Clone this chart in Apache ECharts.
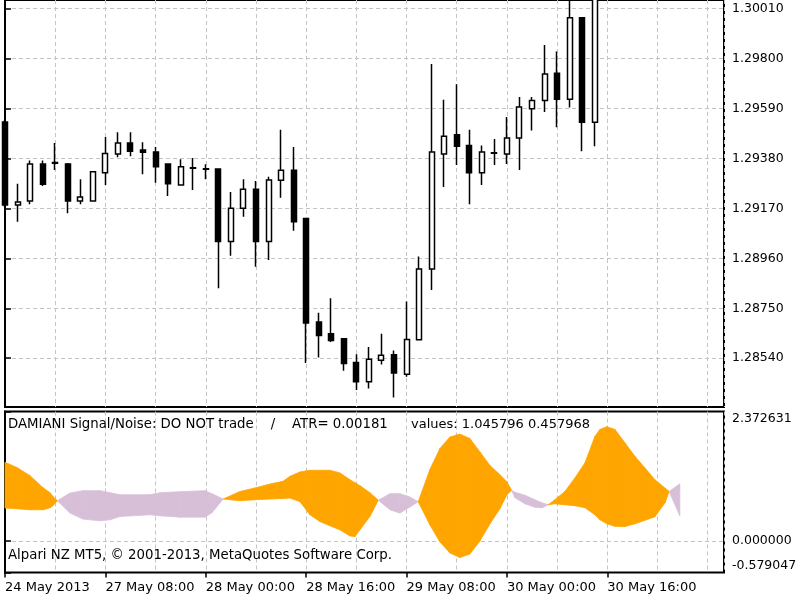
<!DOCTYPE html>
<html>
<head>
<meta charset="utf-8">
<script src="https://cdn.jsdelivr.net/npm/echarts@6/dist/echarts.min.js"></script>
<style>
  html, body { margin: 0; padding: 0; background: #fff; }
  #chart { width: 800px; height: 600px; }
</style>
</head>
<body>
<div id="chart"></div>
<script>
// 2H candles, index 0..47
const candleOpen = [1.29533,1.29184,1.29201,1.29357,1.29363,1.29357,1.29201,1.29201,1.29320,1.29399,1.29445,1.29415,1.29407,1.29357,1.29268,1.29341,1.29337,1.29336,1.29031,1.29171,1.29250,1.29031,1.29288,1.29330,1.29127,1.28692,1.28643,1.28622,1.28522,1.28441,1.28532,1.28555,1.28473,1.28618,1.28915,1.29399,1.29480,1.29434,1.29320,1.29404,1.29399,1.29466,1.29589,1.29624,1.29738,1.29629,1.29971,1.29532];
const candleClose = [1.29184,1.29197,1.29357,1.29271,1.29360,1.29201,1.29218,1.29324,1.29401,1.29445,1.29410,1.29406,1.29345,1.29274,1.29345,1.29339,1.29335,1.29031,1.29171,1.29250,1.29031,1.29289,1.29330,1.29114,1.28688,1.28636,1.28615,1.28518,1.28441,1.28536,1.28553,1.28478,1.28619,1.28915,1.29407,1.29473,1.29431,1.29320,1.29407,1.29402,1.29466,1.29596,1.29624,1.29735,1.29629,1.29971,1.29532,1.30101];
const candleHigh = [1.29540,1.29274,1.29371,1.29371,1.29445,1.29361,1.29292,1.29327,1.29470,1.29490,1.29490,1.29448,1.29428,1.29359,1.29376,1.29382,1.29355,1.29336,1.29239,1.29292,1.29285,1.29303,1.29501,1.29428,1.29127,1.28731,1.28792,1.28622,1.28557,1.28587,1.28643,1.28573,1.28778,1.28968,1.29777,1.29627,1.29692,1.29501,1.29434,1.29462,1.29554,1.29638,1.29638,1.29857,1.29829,1.30071,1.29971,1.30122];
const candleLow = [1.29176,1.29114,1.29187,1.29264,1.29331,1.29150,1.29187,1.29199,1.29268,1.29385,1.29389,1.29313,1.29278,1.29222,1.29266,1.29247,1.29292,1.28834,1.28971,1.29135,1.28925,1.28953,1.29215,1.29076,1.28520,1.28543,1.28608,1.28487,1.28406,1.28413,1.28514,1.28375,1.28462,1.28618,1.28827,1.29260,1.29352,1.29187,1.29268,1.29352,1.29357,1.29331,1.29497,1.29575,1.29511,1.29594,1.29410,1.29431];

const priceTicks = [1.28540, 1.28750, 1.28960, 1.29170, 1.29380, 1.29590, 1.29800, 1.30010];
const timeTickIdx = [0, 8, 16, 24, 32, 40, 48];
const timeTickLabels = ["24 May 2013", "27 May 08:00", "28 May 00:00", "28 May 16:00", "29 May 08:00", "30 May 00:00", "30 May 16:00"];

// DAMIANI volatmeter, two lines (bar position, value)
const indX = [0,0.96,1.99,3.03,3.59,3.82,4.17,5.18,6.22,7.57,8.37,9.16,11.55,12.35,13.94,15.94,16.49,17.39,18.73,19.92,21.12,22.15,22.71,23.51,24.30,25.10,25.90,26.69,27.49,27.89,28.29,29.08,29.75,30.68,31.47,32.27,32.93,33.86,34.66,35.46,36.25,37.05,37.85,38.65,39.44,40.00,40.37,40.64,41.43,42.23,42.79,43.29,43.82,44.62,45.42,46.22,47.01,47.41,47.97,48.61,49.40,50.20,51.00,51.79,52.59,52.93,53.78];
const indSig = [0.602,0.589,0.571,0.571,0.608,0.645,0.737,0.878,0.921,0.921,0.884,0.847,0.847,0.884,0.902,0.921,0.866,0.768,0.737,0.755,0.768,0.779,0.786,0.720,0.479,0.355,0.276,0.203,0.092,0.079,0.203,0.448,0.746,0.866,0.866,0.805,0.718,0.295,-0.018,-0.221,-0.305,-0.239,0.000,0.313,0.589,0.847,0.930,0.893,0.838,0.755,0.700,0.663,0.681,0.663,0.645,0.610,0.479,0.387,0.313,0.267,0.263,0.313,0.378,0.442,0.694,0.908,1.045796];
const indThr = [1.442,1.344,1.197,0.976,0.884,0.816,0.737,0.510,0.400,0.368,0.387,0.448,0.479,0.460,0.436,0.436,0.516,0.768,0.908,0.971,1.044,1.092,1.184,1.265,1.295,1.295,1.295,1.247,1.123,1.068,1.013,0.884,0.746,0.571,0.510,0.621,0.718,1.308,1.694,1.906,1.958,1.878,1.630,1.381,1.215,1.087,0.930,0.792,0.681,0.617,0.608,0.663,0.755,0.908,1.155,1.431,1.915,2.044,2.094,2.044,1.799,1.552,1.339,1.123,0.971,0.908,0.457968];

const indMin = -0.579047;
const indMax = 2.372631;

const font = "DejaVu Sans";
const gridDash = { color: "#c4c4c4", type: [4, 3], width: 1 };

const candleData = candleOpen.map((o, i) => [i, o, candleClose[i], candleLow[i], candleHigh[i]]);
const indData = indX.map((x, i) => [x, indSig[i], indThr[i]]);

const chart = echarts.init(document.getElementById("chart"));

// filling between the two lines: orange where thr > sig, thistle otherwise
function renderFill(params, api) {
  const i = params.dataIndex;
  if (i >= indData.length - 1) return;
  const a = indData[i];
  const b = indData[i + 1];
  const color = (a[2] - a[1]) + (b[2] - b[1]) > 0 ? "#FFA500" : "#D8BFD8";
  const pts = [
    api.coord([a[0], a[1]]),
    api.coord([b[0], b[1]]),
    api.coord([b[0], b[2]]),
    api.coord([a[0], a[2]]),
  ];
  return {
    type: "polygon",
    shape: { points: pts },
    style: { fill: color, stroke: color, lineWidth: 0.8 },
  };
}

const textStyle = { fontFamily: font, fontSize: 13.3, fontWeight: "normal", color: "#000" };

const option = {
  animation: false,
  backgroundColor: "#fff",
  textStyle: { fontFamily: font },
  title: [
    { text: "DAMIANI Signal/Noise: DO NOT trade    /    ATR= 0.00181", left: 8, top: 418, padding: 0, textStyle: textStyle },
    { text: "values: 1.045796 0.457968", left: 411, top: 418, padding: 0, textStyle: { ...textStyle, fontSize: 13 } },
    { text: "Alpari NZ MT5, © 2001-2013, MetaQuotes Software Corp.", left: 8, top: 549, padding: 0, textStyle: textStyle },
  ],
  grid: [
    { left: 5, right: 76, top: -2, height: 409, show: true, borderColor: "#000", borderWidth: 2 },
    { left: 5, right: 76, top: 411.5, height: 161, show: true, borderColor: "#000", borderWidth: 2 },
  ],
  xAxis: [
    { gridIndex: 0, type: "value", min: 0, max: 57.3, interval: 4,
      axisLine: { show: false }, axisTick: { show: false }, axisLabel: { show: false },
      splitLine: { show: true, showMinLine: false, lineStyle: gridDash } },
    { gridIndex: 1, type: "value", min: 0, max: 57.3, interval: 4,
      axisLine: { show: false }, axisTick: { show: false }, axisLabel: { show: false },
      splitLine: { show: true, showMinLine: false, lineStyle: gridDash } },
    { gridIndex: 1, type: "value", min: 0, max: 57.3, position: "bottom",
      axisLine: { show: false },
      axisTick: { show: true, customValues: timeTickIdx, length: 5, lineStyle: { color: "#000", width: 1.5 } },
      axisLabel: { show: true, customValues: timeTickIdx, align: "left", margin: 9,
        fontFamily: font, fontSize: 13, color: "#000",
        formatter: (v) => timeTickLabels[timeTickIdx.indexOf(v)] },
      splitLine: { show: false } },
  ],
  yAxis: [
    { gridIndex: 0, type: "value", position: "right", min: 1.28335, max: 1.30046,
      axisLine: { show: true, lineStyle: { color: "#000", width: 2 } },
      axisTick: { show: true, customValues: priceTicks, length: 6, lineStyle: { color: "#000", width: 1.5 } },
      axisLabel: { show: true, customValues: priceTicks, margin: 8, fontFamily: font, fontSize: 12.5, color: "#000",
        formatter: (v) => v.toFixed(5) },
      splitLine: { show: true, lineStyle: gridDash } },
    { gridIndex: 1, type: "value", position: "right", min: indMin, max: indMax,
      axisLine: { show: true, lineStyle: { color: "#000", width: 2 } },
      axisTick: { show: true, customValues: [indMin, 0, indMax], length: 6, lineStyle: { color: "#000", width: 1.5 } },
      axisLabel: { show: true, customValues: [indMin, 0, indMax], margin: 8, fontFamily: font, fontSize: 12.5, color: "#000",
        formatter: (v) => {
          if (Math.abs(v - indMax) < 1e-9) return "{t|" + v.toFixed(6) + "}";
          if (Math.abs(v - indMin) < 1e-9) return "{b|" + v.toFixed(6) + "}";
          return v.toFixed(6);
        },
        rich: {
          t: { fontFamily: font, fontSize: 12.5, color: "#000", padding: [14, 0, 0, 0] },
          b: { fontFamily: font, fontSize: 12.5, color: "#000", padding: [0, 0, 14, 0] },
        } },
      splitLine: { show: true, showMinLine: false, showMaxLine: false, lineStyle: gridDash } },
  ],
  series: [
    {
      type: "candlestick",
      xAxisIndex: 0,
      yAxisIndex: 0,
      barWidth: 5.5,
      clip: true,
      itemStyle: {
        color: "#fff", color0: "#000",
        borderColor: "#000", borderColor0: "#000", borderColorDoji: "#000",
        borderWidth: 1.5,
      },
      data: candleData,
    },
    {
      type: "custom",
      xAxisIndex: 1,
      yAxisIndex: 1,
      silent: true,
      renderItem: renderFill,
      encode: { x: 0, y: [1, 2] },
      data: indData,
    },
  ],
};

chart.setOption(option);
</script>
</body>
</html>
